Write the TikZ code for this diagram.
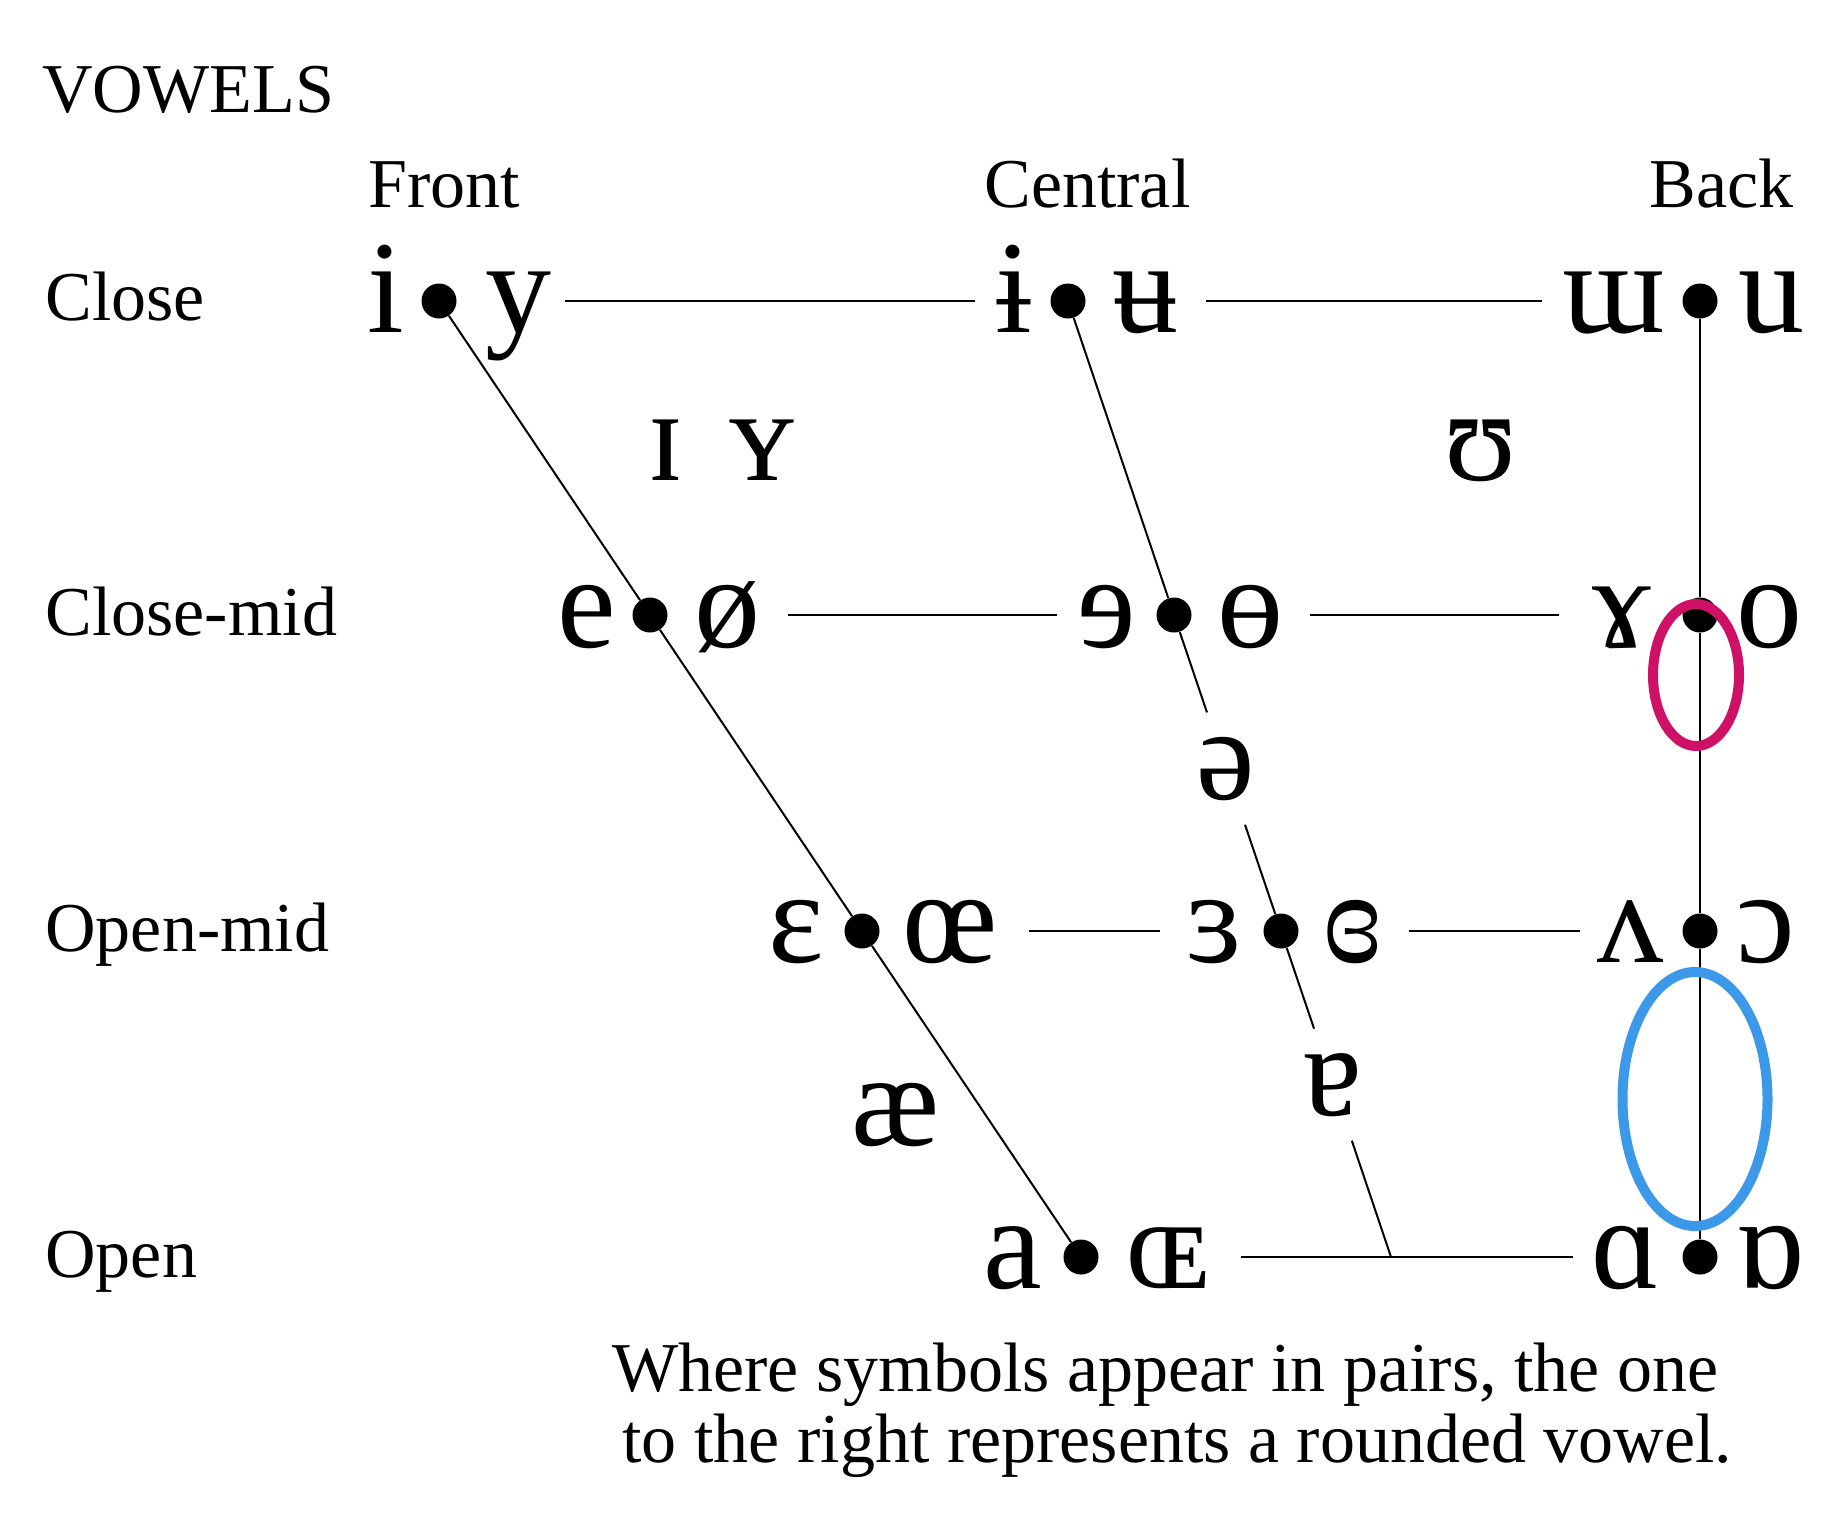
\documentclass[tikz,border=0pt]{standalone}
\usepackage{fontspec}
\setmainfont{Liberation Serif}
\usetikzlibrary{positioning}
\newcommand{\ipabig}{\fontsize{66pt}{66pt}\selectfont}
\newcommand{\headfont}{\fontsize{35pt}{40pt}\selectfont}
\definecolor{ringpink}{RGB}{206,16,102}
\definecolor{ringblue}{RGB}{60,152,233}
\tikzset{
  vdot/.style={circle,fill=black,inner sep=0pt,minimum size=17.5pt},
  vowel/.style={font=\ipabig,inner sep=0pt,anchor=base},
  gapvowel/.style={font=\ipabig,inner sep=12pt,anchor=base},
  heading/.style={font=\headfont,inner sep=0pt,anchor=base west},
  chartline/.style={line width=1pt},
  ring/.style={line width=5pt}
}

\begin{document}
\begin{tikzpicture}[x=0.5pt,y=-0.5pt]
\fill[white] (0,0) rectangle (1841,1523);
\useasboundingbox (0,0) rectangle (1841,1523);

% headings
\node[heading] (title) at (42,112) {VOWELS};
\node[heading] (front) at (368,207) {Front};
\node[heading] (central) at (984,207) {Central};
\node[heading,anchor=base east] (back) at (1794,207) {Back};
\node[heading] (close) at (45,320) {Close};
\node[heading] (closemid) at (45,635) {Close-mid};
\node[heading] (openmid) at (45,951) {Open-mid};
\node[heading] (open) at (45,1277) {Open};

% dots
\node[vdot] (cf) at (439,301) {};
\node[vdot] (cc) at (1068,301) {};
\node[vdot] (cb) at (1700,301) {};
\node[vdot] (mf) at (650,615) {};
\node[vdot] (mc) at (1174,615) {};
\node[vdot] (mb) at (1700,615) {};
\node[vdot] (of) at (862,931) {};
\node[vdot] (oc) at (1281,931) {};
\node[vdot] (ob) at (1700,931) {};
\node[vdot] (af) at (1081,1257) {};
\coordinate (ac) at (1391,1257);
\node[vdot] (ab) at (1700,1257) {};

% symbols
\node[vowel] (v-i) at (386,332) {i};
\node[vowel] (v-y) at (518,332) {y};
\node[vowel] (v-barri) at (1014,332) {ɨ};
\node[vowel] (v-baru) at (1145,332) {ʉ};
\node[vowel] (v-turnm) at (1614,332) {ɯ};
\node[vowel] (v-u) at (1771,332) {u};

\node[vowel] (v-e) at (587,647) {e};
\node[vowel] (v-slasho) at (727,647) {ø};
\node[vowel] (v-reve) at (1107,647) {ɘ};
\node[vowel] (v-baro) at (1250,647) {ɵ};
\node[vowel] (v-ramshorn) at (1622,647) {ɤ};
\node[vowel] (v-o) at (1769,647) {o};

\node[vowel] (v-eps) at (796,962) {ɛ};
\node[vowel] (v-oe) at (950,962) {œ};
\node[vowel] (v-reveps) at (1214,962) {ɜ};
\node[vowel] (v-clreveps) at (1353,962) {ɞ};
\node[vowel] (v-turnv) at (1630,962) {ʌ};
\node[vowel] (v-openo) at (1766,962) {ɔ};

\node[vowel] (v-a) at (1013,1288) {a};
\node[vowel] (v-smoe) at (1168,1288) {ɶ};
\node[vowel] (v-scripta) at (1626,1288) {ɑ};
\node[vowel] (v-turnscripta) at (1770,1288) {ɒ};

\node[vowel] (v-smi) at (666,480) {ɪ};
\node[vowel] (v-smy) at (762,480) {ʏ};
\node[vowel] (v-upsilon) at (1481,480) {ʊ};
\node[gapvowel] (v-schwa) at (1226,799) {ə};
\node[gapvowel] (v-turna) at (1333,1115) {ɐ};
\node[vowel] (v-ae) at (896,1145) {æ};

% rows
\draw[chartline,shorten <=54.25pt,shorten >=37.75pt] (cf) -- (cc);
\draw[chartline,shorten <=60.25pt,shorten >=70.25pt] (cc) -- (cb);
\draw[chartline,shorten <=60.25pt,shorten >=49.75pt] (mf) -- (mc);
\draw[chartline,shorten <=59.25pt,shorten >=61.75pt] (mc) -- (mb);
\draw[chartline,shorten <=74.75pt,shorten >=51.75pt] (of) -- (oc);
\draw[chartline,shorten <=55.25pt,shorten >=51.25pt] (oc) -- (ob);
\draw[chartline,shorten <=71.25pt,shorten >=54.75pt] (af) -- (ab);

% columns
\draw[chartline] (cf) -- (mf) -- (of) -- (af);
\draw[chartline] (cc) -- (mc) -- (v-schwa) -- (oc) -- (v-turna) -- (ac);
\draw[chartline] (cb) -- (mb) -- (ob) -- (ab);

% rings
\draw[ring,ringpink] (1696,675) ellipse [x radius=21.5pt,y radius=35.5pt];
\draw[ring,ringblue] (1695,1099) ellipse [x radius=36.25pt,y radius=63.5pt];

% note
\node[heading] (note1) at (612,1391) {Where symbols appear in pairs, the one};
\node[heading] (note2) at (622,1462) {to the right represents a rounded vowel.};
\end{tikzpicture}
\end{document}
